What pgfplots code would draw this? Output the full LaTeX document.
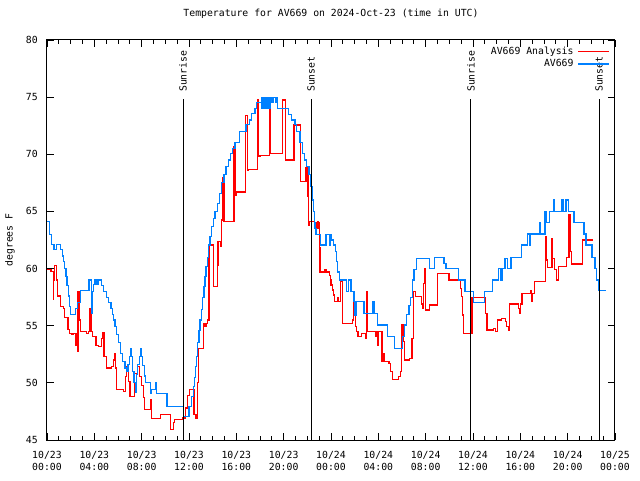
\documentclass[border=0pt]{standalone}
\usepackage{fontspec}
\setmainfont{DejaVu Sans Mono}
\usepackage{pgfplots}
\pgfplotsset{compat=1.18}
\definecolor{avred}{RGB}{255,0,0}
\definecolor{avblue}{RGB}{0,128,255}
\begin{document}
\fontsize{9.8pt}{12pt}\selectfont
\begin{tikzpicture}[x=1pt,y=1pt]
\useasboundingbox (-47,-40) rectangle (593,440);
\begin{axis}[
  at={(0,0)}, anchor=south west,
  scale only axis, width=568pt, height=400pt,
  xmin=0, xmax=48, ymin=45, ymax=80,
  xtick={0,4,...,48},
  xticklabels={{10/23\\00:00},{10/23\\04:00},{10/23\\08:00},{10/23\\12:00},{10/23\\16:00},{10/23\\20:00},{10/24\\00:00},{10/24\\04:00},{10/24\\08:00},{10/24\\12:00},{10/24\\16:00},{10/24\\20:00},{10/25\\00:00}},
  minor x tick num=3,
  ytick={45,50,...,80},
  tick align=inside,
  major tick length=7pt, minor tick length=4pt,
  every tick/.style={black, line width=0.9pt},
  axis line style={line width=1pt},
  /pgf/number format/assume math mode=true,
  xticklabel style={align=center, inner sep=0pt, yshift=-11pt},
  yticklabel style={inner sep=0pt, xshift=-9pt},
  title={Temperature for AV669 on 2024-Oct-23 (time in UTC)},
  title style={at={(axis description cs:0.5,1.05)}, anchor=center, inner sep=0pt},
  ylabel={degrees F},
  ylabel style={at={(axis description cs:-0.065,0.5)}, anchor=center, inner sep=0pt},
  legend plot pos=right,
  legend cell align=right,
  legend style={draw=none, fill=none, at={(axis description cs:0.9912,0.985)}, anchor=north east, inner sep=0pt, row sep=1.5pt, column sep=3pt, nodes={inner sep=1pt}},
  legend image code/.code={\draw[#1] (0pt,0pt) -- (31pt,0pt);},
]
\addplot[const plot, avred, line width=1.25pt] coordinates {
(0,59.9) (0.34,59.75) (0.52,57.3) (0.56,59.0) (0.66,60.3) (0.8,59.0) (0.9,57.6)
(1.15,56.7) (1.4,56.5) (1.5,55.7) (1.78,54.65) (1.9,54.35) (2.05,54.2) (2.2,54.35)
(2.45,53.3) (2.55,52.75) (2.62,58.0) (2.74,55.5) (2.85,54.5) (3.35,54.35) (3.48,54.5)
(3.6,56.5) (3.72,54.5) (3.85,54.06) (4.15,53.3) (4.35,53.2) (4.6,53.9) (4.68,54.36)
(4.82,52.3) (5.0,51.3) (5.45,51.45) (5.6,52.0) (5.72,52.6) (5.8,51.3) (5.88,49.4)
(6.45,49.25) (6.62,50.55) (6.72,51.45) (6.9,50.15) (7.02,48.8) (7.42,50.85) (7.62,51.45)
(7.82,50.55) (7.98,49.8) (8.18,48.7) (8.26,47.65) (8.75,48.5) (8.85,46.9) (9.6,47.2)
(10.42,45.9) (10.72,46.5) (10.8,46.77) (11.5,46.92) (11.7,47.8) (11.9,48.9) (12.05,49.4)
(12.42,47.2) (12.6,46.9) (12.72,50.0) (12.8,53.0) (13.2,55.2) (13.35,54.9) (13.45,55.2)
(13.58,55.5) (13.68,62.06) (14.1,58.4) (14.38,60.3) (14.45,62.35) (14.68,61.9) (14.75,64.25)
(14.8,68.0) (14.85,64.25) (14.88,68.0) (14.95,64.1) (15.8,70.7) (15.88,66.4) (16.0,66.7)
(16.8,73.4) (16.95,68.6) (17.05,68.7) (17.78,74.75) (17.9,69.8) (18.0,69.9) (18.82,75.0)
(18.88,70.1) (19.88,74.75) (20.18,69.5) (20.88,72.56) (21.42,67.6) (21.88,68.8) (22.05,66.3)
(22.1,63.8) (22.2,64.1) (22.6,63.8) (22.75,64.0) (22.82,63.5) (22.88,64.1) (22.95,63.5)
(23.0,64.0) (23.05,61.8) (23.08,59.7) (23.5,59.9) (23.65,59.7) (23.86,59.4) (23.93,59.0)
(24.0,58.56) (24.1,58.13) (24.2,57.69) (24.28,57.1) (24.55,57.5) (24.62,57.1) (24.83,58.85)
(24.98,55.2) (25.8,55.5) (25.92,57.7) (25.97,57.1) (26.05,54.9) (26.15,54.5) (26.28,54.04)
(26.55,54.33) (26.95,53.9) (27.0,58.0) (27.08,54.48) (27.8,54.04) (27.9,53.3) (27.98,54.48)
(28.3,51.85) (28.38,52.58) (28.48,51.85) (28.9,51.7) (29.05,50.98) (29.2,50.31) (29.68,50.54)
(29.85,50.98) (29.95,55.06) (30.08,53.6) (30.22,52.0) (30.65,52.15) (30.85,53.9) (31.0,58.0)
(31.12,57.54) (31.62,56.9) (31.72,56.52) (31.82,58.7) (31.92,60.0) (32.0,56.38) (32.35,56.81)
(32.97,59.58) (33.98,59.0) (34.95,58.27) (35.05,57.54) (35.12,55.94) (35.18,54.33) (35.92,57.48)
(37.08,56.08) (37.18,54.63) (37.75,54.78) (37.88,54.48) (38.1,55.5) (38.38,55.65) (38.72,55.35)
(38.85,54.92) (39.0,54.63) (39.07,56.9) (39.82,56.52) (39.92,56.08) (40.03,56.9) (40.15,57.83)
(40.85,58.1) (40.95,57.1) (41.05,57.83) (41.22,58.85) (42.12,62.79) (42.2,60.75) (42.28,60.11)
(42.68,62.65) (42.75,60.9) (42.88,59.9) (43.05,59.0) (43.2,60.17) (43.9,61.0) (44.12,64.69)
(44.2,61.5) (44.32,60.4) (45.25,62.5) (46.12,62.5)
};
\addlegendentry{AV669 Analysis}
\addplot[const plot, avblue, line width=1.25pt] coordinates {
(0,64.1) (0.22,63.0) (0.4,62.1) (0.6,61.7) (0.8,62.1) (1.15,61.7) (1.3,61.1) (1.4,60.6)
(1.5,60.0) (1.6,59.3) (1.7,58.5) (1.8,57.6) (1.9,56.7) (2.0,56.0) (2.4,56.5) (2.55,57.0)
(2.85,58.1) (3.55,59.0) (3.78,56.1) (3.85,58.0) (3.95,58.6) (4.05,59.0) (4.15,58.6) (4.2,59.0)
(4.3,58.6) (4.35,59.0) (4.6,58.5) (4.8,58.0) (5.0,57.5) (5.2,57.0) (5.4,56.5) (5.55,56.0)
(5.65,55.5) (5.75,54.9) (5.85,54.2) (6.05,53.5) (6.2,52.6) (6.35,51.9) (6.6,51.3) (6.75,51.0)
(6.85,51.6) (7.0,52.3) (7.08,53.0) (7.15,52.3) (7.2,51.0) (7.35,50.0) (7.45,49.2) (7.55,50.7)
(7.65,51.6) (7.8,52.3) (7.9,53.0) (8.0,52.3) (8.1,51.5) (8.25,50.6) (8.35,50.0) (8.75,49.1)
(8.85,49.4) (9.15,50.0) (9.25,49.05) (10.15,47.95) (11.55,47.05) (12.0,47.9) (12.22,48.8)
(12.37,49.7) (12.45,50.5) (12.56,51.4) (12.65,52.3) (12.73,53.5) (12.85,54.6) (12.93,55.5)
(13.07,56.4) (13.15,57.5) (13.27,58.4) (13.35,59.3) (13.44,60.2) (13.55,61.0) (13.65,62.06)
(13.77,62.8) (13.92,63.7) (14.06,64.4) (14.2,65.0) (14.39,65.7) (14.56,66.6) (14.76,67.5)
(14.96,68.2) (15.13,68.9) (15.32,69.5) (15.52,70.1) (15.69,70.5) (15.89,71.0) (16.25,72.0)
(16.82,72.6) (17.1,73.0) (17.3,73.6) (17.58,74.0) (17.72,74.5) (18.1,75.0) (18.15,74.0)
(18.22,75.0) (18.3,74.0) (18.38,75.0) (18.48,74.0) (18.55,75.0) (18.65,74.0) (18.72,75.0)
(18.82,74.0) (18.9,75.0) (19.0,74.5) (19.1,75.0) (19.3,74.5) (19.38,75.0) (19.46,74.0)
(20.4,73.5) (20.68,73.0) (20.96,72.6) (21.1,72.0) (21.38,71.0) (21.58,70.1) (21.75,69.5)
(21.94,68.9) (22.14,68.2) (22.31,67.2) (22.42,66.0) (22.5,65.0) (22.58,64.0) (22.65,63.5)
(22.73,63.0) (23.13,62.06) (23.58,63.0) (23.86,62.06) (23.92,63.0) (24.06,62.5) (24.2,62.06)
(24.37,61.5) (24.48,60.6) (24.56,59.7) (24.7,59.0) (25.32,58.0) (25.5,59.0) (25.7,58.0)
(25.94,57.1) (26.03,55.9) (26.17,57.1) (26.79,56.1) (27.52,57.1) (27.63,56.1) (27.92,55.06)
(28.76,54.04) (29.35,53.0) (30.06,54.04) (30.2,55.06) (30.4,56.0) (30.59,56.8) (30.73,57.5)
(30.87,59.0) (31.01,59.9) (31.24,60.9) (32.31,60.0) (32.73,60.98) (33.55,60.46) (33.72,60.0)
(34.76,59.0) (35.32,58.0) (36.03,57.0) (36.96,58.0) (37.66,59.0) (38.17,60.0) (38.35,59.0)
(38.45,60.0) (38.7,60.9) (38.9,60.0) (39.21,60.98) (40.11,62.06) (40.62,63.03) (40.76,62.06)
(40.87,63.03) (41.61,64.0) (41.7,63.03) (42.09,64.98) (42.2,64.0) (42.45,64.98) (42.79,66.0)
(42.9,64.98) (43.49,66.0) (43.6,64.98) (43.86,66.0) (44.1,65.0) (44.54,64.0) (45.38,63.03)
(45.55,62.06) (46.06,61.0) (46.31,60.0) (46.45,59.0) (46.65,58.1) (47.24,58.1)
};
\addlegendentry{AV669}
\addplot[black, line width=1pt, forget plot] coordinates {(11.5,45) (11.5,74.85)};
\addplot[black, line width=1pt, forget plot] coordinates {(22.31,45) (22.31,74.85)};
\addplot[black, line width=1pt, forget plot] coordinates {(35.83,45) (35.83,74.85)};
\addplot[black, line width=1pt, forget plot] coordinates {(46.65,45) (46.65,74.85)};
\node[rotate=90, anchor=west, inner sep=0pt] at (axis cs:11.5,75.45) {Sunrise};
\node[rotate=90, anchor=west, inner sep=0pt] at (axis cs:22.31,75.45) {Sunset};
\node[rotate=90, anchor=west, inner sep=0pt] at (axis cs:35.83,75.45) {Sunrise};
\node[rotate=90, anchor=west, inner sep=0pt] at (axis cs:46.65,75.45) {Sunset};
\end{axis}
\end{tikzpicture}
\end{document}
